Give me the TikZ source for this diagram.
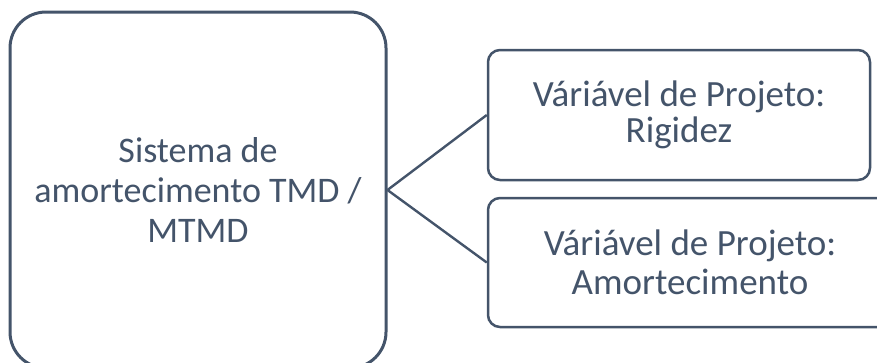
\documentclass[tikz,border=0pt]{standalone}
\usepackage{fontspec}
\setmainfont{Carlito}
\definecolor{slate}{HTML}{44546A}
\tikzset{
  bigbox/.style={draw=slate, line width=3pt, rounded corners=36pt, fill=white, text=slate, align=center, inner sep=0pt},
  smallbox/.style={draw=slate, line width=2.5pt, rounded corners=12pt, fill=white, text=slate, align=center, inner sep=0pt},
  link/.style={draw=slate, line width=2.4pt}
}
\begin{document}
\begin{tikzpicture}[x=1pt,y=-1pt]
\useasboundingbox (0,0) rectangle (877,362);
\clip (0,0) rectangle (877,362);
\node[bigbox, minimum width=376pt, minimum height=356pt] (sys) at (198,190) {};
\node[slate, align=center, font=\fontsize{36}{40}\selectfont, inner sep=0pt] (systxt) at (198,190) {Sistema de\\amortecimento TMD /\\MTMD};
\node[smallbox, minimum width=382pt, minimum height=130pt] (rig) at (679,115) {};
\node[slate, align=center, font=\fontsize{37}{36}\selectfont, inner sep=0pt] (rigtxt) at (679,115) {Váriável de Projeto:\\Rigidez};
\node[smallbox, minimum width=404pt, minimum height=129pt] (amo) at (690,262.5) {};
\node[slate, align=center, font=\fontsize{37}{39}\selectfont, inner sep=0pt] (amotxt) at (690,262.5) {Váriável de Projeto:\\Amortecimento};
\draw[link] (sys.east) -- (rig.west);
\draw[link] (sys.east) -- (amo.west);
\end{tikzpicture}
\end{document}
